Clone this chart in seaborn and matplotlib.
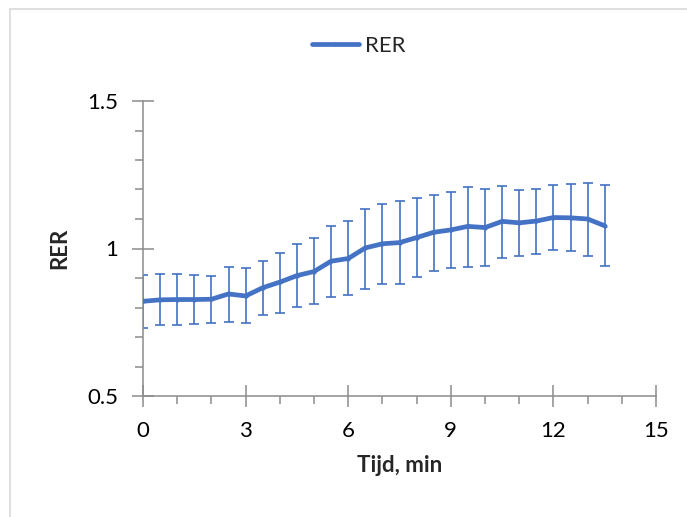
import numpy as np
import pandas as pd
import seaborn as sns
import matplotlib.pyplot as plt
from matplotlib.patches import Rectangle
from matplotlib.ticker import MultipleLocator

# RER per half minute
tijd = [0, 0.5, 1, 1.5, 2, 2.5, 3, 3.5, 4, 4.5, 5, 5.5, 6, 6.5,
        7, 7.5, 8, 8.5, 9, 9.5, 10, 10.5, 11, 11.5, 12, 12.5, 13, 13.5]
rer = [0.821, 0.826, 0.827, 0.827, 0.828, 0.846, 0.839, 0.867, 0.886, 0.908,
       0.922, 0.957, 0.966, 1.002, 1.016, 1.020, 1.037, 1.055, 1.063, 1.075,
       1.071, 1.092, 1.087, 1.093, 1.105, 1.104, 1.100, 1.077]
# error bar ends (upper / lower)
rer_hi = [0.911, 0.912, 0.913, 0.910, 0.908, 0.936, 0.933, 0.957, 0.985, 1.015,
          1.035, 1.076, 1.093, 1.135, 1.150, 1.161, 1.170, 1.183, 1.191, 1.210,
          1.202, 1.213, 1.199, 1.202, 1.216, 1.218, 1.223, 1.216]
rer_lo = [0.731, 0.741, 0.740, 0.743, 0.749, 0.751, 0.748, 0.773, 0.783, 0.801,
          0.812, 0.835, 0.842, 0.863, 0.879, 0.881, 0.905, 0.925, 0.934, 0.938,
          0.941, 0.967, 0.975, 0.981, 0.995, 0.990, 0.973, 0.939]

df = pd.DataFrame({'Tijd': tijd, 'RER': rer, 'hi': rer_hi, 'lo': rer_lo})

sns.set_style('white')
plt.rcParams['font.family'] = ['Lato', 'DejaVu Sans']

blue = '#4472C4'
grey = '#8C8C8C'

fig = plt.figure(figsize=(6.87, 5.17), dpi=100)
ax = fig.add_axes([143 / 687, 1 - 396 / 517, 513 / 687, 295 / 517])

# chart border (Excel style)
fig.patches.append(Rectangle((10 / 687, -0.1), 1.2, 1 - 9 / 517 + 0.1,
                             transform=fig.transFigure, fill=False,
                             edgecolor='#D9D9D9', linewidth=1.2))

ax.errorbar(df['Tijd'], df['RER'],
            yerr=[df['RER'] - df['lo'], df['hi'] - df['RER']],
            fmt='none', ecolor=blue, elinewidth=1.2, capsize=3.6, capthick=1.2,
            zorder=2)
sns.lineplot(x='Tijd', y='RER', data=df, color=blue, linewidth=3.4,
             marker='o', markersize=3, markeredgewidth=0, label='RER',
             ax=ax, zorder=3, legend=False)

ax.set_xlim(0, 15)
ax.set_ylim(0.5, 1.5)
ax.xaxis.set_major_locator(MultipleLocator(3))
ax.xaxis.set_minor_locator(MultipleLocator(1))
ax.yaxis.set_minor_locator(MultipleLocator(0.1))
ax.set_yticks([0.5, 1, 1.5])
ax.set_yticklabels(['0.5', '1', '1.5'])

for s in ['top', 'right']:
    ax.spines[s].set_visible(False)
for s in ['left', 'bottom']:
    ax.spines[s].set_color(grey)
    ax.spines[s].set_linewidth(1.1)

ax.tick_params(which='major', direction='inout', length=16, width=1.1,
               color=grey, labelsize=16, labelcolor='black')
ax.tick_params(which='minor', direction='out', length=6, width=1.1, color=grey)
ax.tick_params(axis='x', which='major', pad=10)
ax.tick_params(axis='y', which='major', pad=10)
ax.tick_params(left=True, bottom=True, which='both')

ax.set_xlabel('Tijd, min', fontsize=16, fontweight='bold', labelpad=10)
ax.set_ylabel('RER', fontsize=16, fontweight='bold', labelpad=12)

handles, labels = ax.get_legend_handles_labels()
fig.legend(handles, labels, loc='center', bbox_to_anchor=(359 / 687, 1 - 46 / 517),
           frameon=False, fontsize=16, handlelength=2.1, handletextpad=0.3)

fig.savefig('out.png', dpi=100, facecolor='white')
